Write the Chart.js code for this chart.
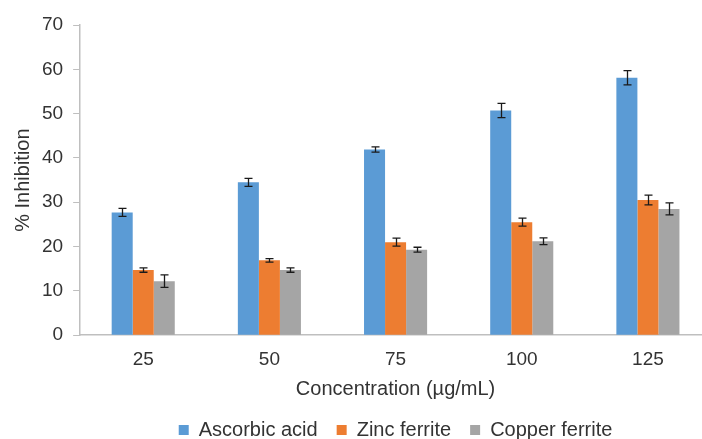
<!DOCTYPE html>
<html>
<head>
<meta charset="utf-8">
<script src="https://cdn.jsdelivr.net/npm/chart.js@4.4.1/dist/chart.umd.min.js"></script>
<style>
  html, body { margin: 0; padding: 0; background: #fff; overflow: hidden; }
  #wrap { position: relative; width: 716px; height: 439px; }
</style>
</head>
<body>
<div id="wrap"><canvas id="chart"></canvas></div>
<script>
const concentrations = ['25', '50', '75', '100', '125'];
const ascorbicAcid = [27.7, 34.5, 41.9, 50.7, 58.1];
const ascorbicErr = [0.9, 0.9, 0.6, 1.6, 1.6];
const zincFerrite = [14.7, 16.9, 21.0, 25.5, 30.5];
const zincErr = [0.5, 0.4, 0.9, 0.9, 1.1];
const copperFerrite = [12.2, 14.7, 19.3, 21.2, 28.5];
const copperErr = [1.4, 0.5, 0.55, 0.75, 1.35];

const textColor = '#333333';
const axisColor = '#bfbfbf';
const fontFamily = '"Liberation Sans", Arial, sans-serif';

// draws the +/- error bars on top of each bar
const errorBars = {
  id: 'errorBars',
  afterDatasetsDraw(chart) {
    const { ctx, scales: { y } } = chart;
    ctx.save();
    ctx.strokeStyle = '#1a1a1a';
    ctx.lineWidth = 1.3;
    chart.data.datasets.forEach((ds, i) => {
      const meta = chart.getDatasetMeta(i);
      meta.data.forEach((bar, j) => {
        const v = ds.data[j], e = ds.errors[j];
        const top = y.getPixelForValue(v + e);
        const bot = y.getPixelForValue(v - e);
        const x = Math.round(bar.x) + 0.5;
        ctx.beginPath();
        ctx.moveTo(x, top); ctx.lineTo(x, bot);
        ctx.moveTo(x - 4, top); ctx.lineTo(x + 4, top);
        ctx.moveTo(x - 4, bot); ctx.lineTo(x + 4, bot);
        ctx.stroke();
      });
    });
    ctx.restore();
  }
};

new Chart(document.getElementById('chart'), {
  type: 'bar',
  data: {
    labels: concentrations,
    datasets: [
      { label: 'Ascorbic acid', data: ascorbicAcid, errors: ascorbicErr, backgroundColor: '#5b9bd5' },
      { label: 'Zinc ferrite', data: zincFerrite, errors: zincErr, backgroundColor: '#ed7d31' },
      { label: 'Copper ferrite', data: copperFerrite, errors: copperErr, backgroundColor: '#a5a5a5' },
    ]
  },
  options: {
    responsive: true, maintainAspectRatio: false, animation: false,
    datasets: { bar: { barPercentage: 1, categoryPercentage: 0.5 } },
    layout: { padding: { left: 7, right: 5, top: 25, bottom: -11 } },
    plugins: {
      tooltip: { enabled: false },
      legend: {
        position: 'bottom',
        fullSize: false,
        labels: {
          boxWidth: 10, boxHeight: 10, padding: 19, color: textColor,
          font: { family: fontFamily, size: 20 }
        }
      }
    },
    scales: {
      x: {
        grid: { display: false },
        border: { display: true, color: axisColor, width: 1.5 },
        ticks: { color: textColor, padding: 5, font: { family: fontFamily, size: 19 } },
        title: {
          display: true, text: 'Concentration (µg/mL)', color: textColor,
          padding: { top: 1, bottom: 0 },
          font: { family: fontFamily, size: 20 }
        }
      },
      y: {
        min: 0, max: 70,
        grid: { drawOnChartArea: false, drawTicks: true, tickLength: 7, color: axisColor },
        border: { display: true, color: axisColor, width: 1.5 },
        ticks: { stepSize: 10, color: textColor, padding: 10, font: { family: fontFamily, size: 19 } },
        title: {
          display: true, text: '% Inhibition', color: textColor,
          padding: { top: 4, bottom: -3 },
          font: { family: fontFamily, size: 20 }
        }
      }
    }
  },
  plugins: [errorBars]
});
</script>
</body>
</html>
